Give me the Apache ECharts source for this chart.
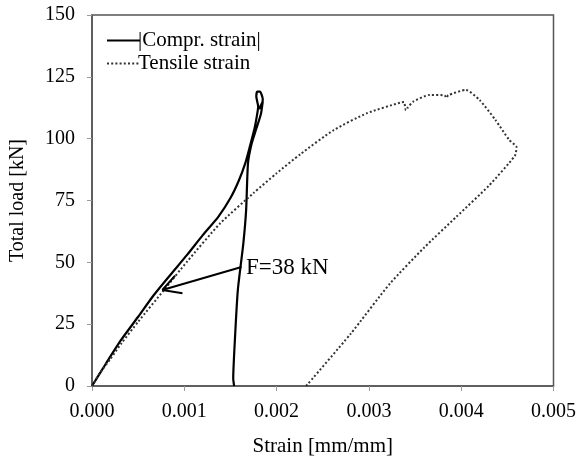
<!DOCTYPE html>
<html>
<head>
<meta charset="utf-8">
<script src="https://cdn.jsdelivr.net/npm/echarts@6/dist/echarts.min.js"></script>
<style>html,body{margin:0;padding:0;background:#fff}#c{width:579px;height:463px}</style>
</head>
<body>
<div id="c"></div>
<script>
var seriesNames = ['|Compr. strain|', 'Tensile strain'];
var xTicks = [0, 0.001, 0.002, 0.003, 0.004, 0.005];
var yTicks = [0, 25, 50, 75, 100, 125, 150];

// |Compressive strain| path [strain, load kN]
var comprStrain = [0, 0.00015, 0.000315, 0.0005, 0.00067, 0.00085, 0.00103, 0.0012, 0.00137, 0.0015, 0.00159, 0.00166, 0.00171, 0.00176, 0.00179, 0.0018, 0.00178, 0.00179, 0.00182, 0.00185, 0.00184, 0.00181, 0.00185, 0.00183, 0.00178, 0.00173, 0.00169, 0.00167, 0.00164, 0.00158, 0.00155, 0.00153, 0.00154];
var comprLoad   = [0, 9, 18.6, 28, 36.8, 45, 53, 61, 68.5, 76, 83, 90, 96.8, 104, 110, 113, 117, 119, 119, 116, 113.5, 112, 115, 110, 104, 98, 90, 71.2, 57.8, 38.8, 20, 3, 0];

// Tensile strain path [strain, load kN]
var tensStrain = [0, 0.00008, 0.0002, 0.00032, 0.0005, 0.00078, 0.00103, 0.00139, 0.00175, 0.002, 0.00226, 0.00262, 0.00298, 0.00334, 0.00338, 0.0034, 0.00342, 0.00348, 0.00366, 0.00382, 0.00384, 0.00386, 0.00405, 0.0042, 0.00437, 0.00452, 0.0046, 0.00458, 0.0043, 0.00395, 0.0036, 0.00323, 0.0028, 0.00232];
var tensLoad   = [0, 5, 11, 17.3, 26, 38.8, 50.3, 65.8, 78, 86, 93.8, 103.5, 110.3, 114.6, 114.8, 111.5, 112.5, 115, 117.7, 117.5, 116.5, 117.6, 119.7, 115.6, 107.6, 99.5, 96.5, 93, 81, 68.5, 56, 41.5, 21, 0];

// annotation arrow (data space): shaft and the two head strokes
var arrowFrom = [0.00162, 48.1];
var arrowTip = [0.000762, 38.8];
var arrowWing1 = [0.0009, 44.6];
var arrowWing2 = [0.00098, 37.5];
var annotationText = 'F=38 kN';

function zip(a, b) { return a.map(function (v, i) { return [v, b[i]]; }); }

var font = 'Liberation Serif';
var axisColor = '#555';
var chart = echarts.init(document.getElementById('c'));
chart.setOption({
  animation: false,
  backgroundColor: '#fff',
  textStyle: { fontFamily: font, color: '#000' },
  grid: { left: 89, right: 24, top: 15, bottom: 77, show: true, borderColor: axisColor, borderWidth: 1.5, backgroundColor: 'transparent' },
  legend: {
    orient: 'vertical', left: 101, top: 25, itemWidth: 33, itemHeight: 14, itemGap: 2,
    itemStyle: { opacity: 0 },
    textStyle: { fontFamily: font, fontSize: 21, color: '#000', padding: [0, 0, 0, -7] },
    data: seriesNames
  },
  xAxis: {
    type: 'value', min: xTicks[0], max: xTicks[xTicks.length - 1], interval: 0.001,
    name: 'Strain [mm/mm]', nameLocation: 'middle', nameGap: 50,
    nameTextStyle: { fontFamily: font, fontSize: 21, color: '#000' },
    axisLine: { show: true, onZero: false, lineStyle: { color: axisColor, width: 1.5 } },
    axisTick: { show: true, inside: false, length: 5, lineStyle: { color: '#999' } },
    axisLabel: { margin: 16, fontFamily: font, fontSize: 20, color: '#000', formatter: function (v) { return v.toFixed(3); } },
    splitLine: { show: false }
  },
  yAxis: {
    type: 'value', min: yTicks[0], max: yTicks[yTicks.length - 1], interval: 25,
    name: 'Total load [kN]', nameLocation: 'middle', nameGap: 64, nameRotate: 90,
    nameTextStyle: { fontFamily: font, fontSize: 20, color: '#000' },
    axisLine: { show: true, onZero: false, lineStyle: { color: axisColor, width: 1.5 } },
    axisTick: { show: true, inside: false, length: 5, lineStyle: { color: '#999' } },
    axisLabel: { margin: 17, fontFamily: font, fontSize: 20, color: '#000' },
    splitLine: { show: false }
  },
  series: [
    {
      name: seriesNames[0], type: 'line', data: zip(comprStrain, comprLoad),
      showSymbol: false, symbol: 'none', smooth: 0.2,
      lineStyle: { color: '#000', width: 2.2 },
      itemStyle: { color: '#000' },
      markLine: {
        silent: true, animation: false,
        symbol: ['none', 'none'],
        label: { show: false },
        lineStyle: { color: '#000', width: 2, type: 'solid' },
        data: [
          [{ coord: arrowFrom }, { coord: arrowTip }],
          [{ coord: arrowTip }, { coord: arrowWing1 }],
          [{ coord: arrowTip }, { coord: arrowWing2 }]
        ]
      }
    },
    {
      name: seriesNames[1], type: 'line', data: zip(tensStrain, tensLoad),
      showSymbol: false, symbol: 'none', smooth: 0.2,
      lineStyle: { color: '#333', width: 2, type: [2, 2.2] },
      itemStyle: { color: '#333' }
    }
  ],
  graphic: [{
    type: 'text', left: 246, top: 256,
    style: { text: annotationText, fontFamily: font, fontSize: 23, fill: '#000' }
  }]
});
</script>
</body>
</html>
